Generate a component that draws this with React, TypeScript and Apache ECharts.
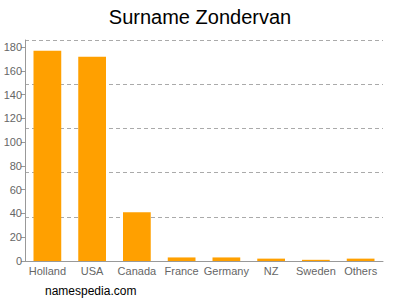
import React, { useEffect, useRef } from "react";
import * as echarts from "echarts";

const categories = ["Holland", "USA", "Canada", "France", "Germany", "NZ", "Sweden", "Others"];
const counts = [177, 172, 41, 3, 3, 2, 1, 2];
const yMax = 186;

export default function App() {
  const ref = useRef<HTMLDivElement>(null);
  useEffect(() => {
    const chart = echarts.init(ref.current!, undefined, { renderer: "svg" });
    chart.setOption({
      animation: false,
      title: {
        text: "Surname Zondervan",
        left: "center",
        top: 2,
        textStyle: { fontFamily: "Liberation Sans", fontSize: 20, fontWeight: "normal", color: "#000" },
      },
      graphic: [
        {
          type: "text",
          left: 45,
          top: 285,
          style: { text: "namespedia.com", fontFamily: "Liberation Sans", fontSize: 12, fill: "#000" },
        },
      ],
      grid: { left: 25, right: 17, top: 40, bottom: 39, containLabel: false },
      xAxis: {
        type: "category",
        data: categories,
        axisLine: { lineStyle: { color: "#999" } },
        axisTick: { alignWithLabel: true, length: 4, lineStyle: { color: "#999" } },
        axisLabel: { color: "#666", fontFamily: "Liberation Sans", fontSize: 11, margin: 4, interval: 0 },
      },
      yAxis: [
        {
          type: "value",
          min: 0,
          max: yMax,
          interval: 20,
          axisLine: { show: true, lineStyle: { color: "#999" } },
          axisTick: { show: true, length: 4, lineStyle: { color: "#999" } },
          axisLabel: {
            color: "#666",
            fontFamily: "Liberation Sans",
            fontSize: 11,
            margin: 3,
            showMaxLabel: false,
          },
          splitLine: { show: false },
        },
        {
          type: "value",
          min: 0,
          max: yMax,
          interval: yMax / 5,
          position: "left",
          axisLine: { show: false },
          axisTick: { show: false },
          axisLabel: { show: false },
          splitLine: { show: true, lineStyle: { color: "#aaa", type: [4, 3] } },
        },
      ],
      series: [
        {
          type: "bar",
          data: counts,
          barWidth: "62%",
          itemStyle: { color: "#ffa000" },
          yAxisIndex: 0,
        },
      ],
    });
    return () => chart.dispose();
  }, []);
  return <div ref={ref} style={{ width: 400, height: 300, position: "absolute", left: 0, top: 0 }} />;
}
